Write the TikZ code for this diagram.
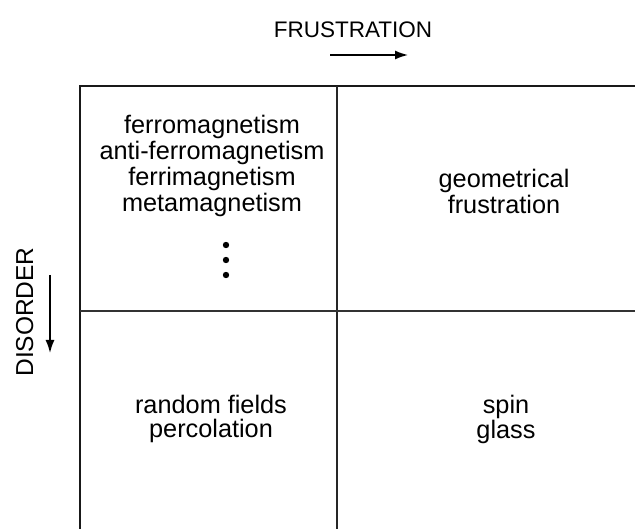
\documentclass[tikz,border=0pt]{standalone}
\usepackage{fontspec}
\setmainfont{Liberation Sans}
\usetikzlibrary{arrows.meta}

\begin{document}
\begin{tikzpicture}[x=1pt, y=-1pt, >={Latex[length=13pt, width=9pt]},
    cell/.style={align=center, inner sep=0pt, anchor=north},
    axislabel/.style={font=\fontsize{22.5}{26}\selectfont, inner sep=0pt, anchor=base}]
  \useasboundingbox (0,0) rectangle (635,529);

  % 1. Griglia 2x2 (tagliata a destra e in basso)
  \draw[line width=2.4pt, black!90] (80,529) -- (80,86) -- (635,86);
  \draw[line width=1.8pt, black!85] (337,86) -- (337,529);
  \draw[line width=1.6pt, black!80] (80,311) -- (635,311);

  % 2. Etichette degli assi con frecce
  \node[axislabel] (frust) at (353,38) {FRUSTRATION};
  \coordinate (frustA) at (330,55);
  \coordinate (frustB) at (408,55);
  \draw[->, line width=1.5pt] (frustA) -- (frustB);

  \node[axislabel, font=\fontsize{24.5}{28}\selectfont, rotate=90] (disord) at (33,312) {DISORDER};
  \coordinate (disordA) at (50,275);
  \coordinate (disordB) at (50,353);
  \draw[->, line width=1.5pt] (disordA) -- (disordB);

  % 3. Contenuto delle celle
  \node[cell, font=\fontsize{25.3}{26.3}\selectfont] (ferro) at (212,114.5)
    {ferromagnetism\\anti-ferromagnetism\\ferrimagnetism\\metamagnetism};
  \foreach \y in {245, 260, 275}
    \fill (226,\y) circle (3.2pt);

  \node[cell, font=\fontsize{25.3}{26}\selectfont] (geom) at (504,169) {geometrical\\frustration};
  \node[cell, font=\fontsize{25.3}{24.5}\selectfont] (rand) at (211,394.5) {random fields\\percolation};
  \node[cell, font=\fontsize{25.3}{25}\selectfont] (spin) at (506,395) {spin\\glass};

\end{tikzpicture}
\end{document}
